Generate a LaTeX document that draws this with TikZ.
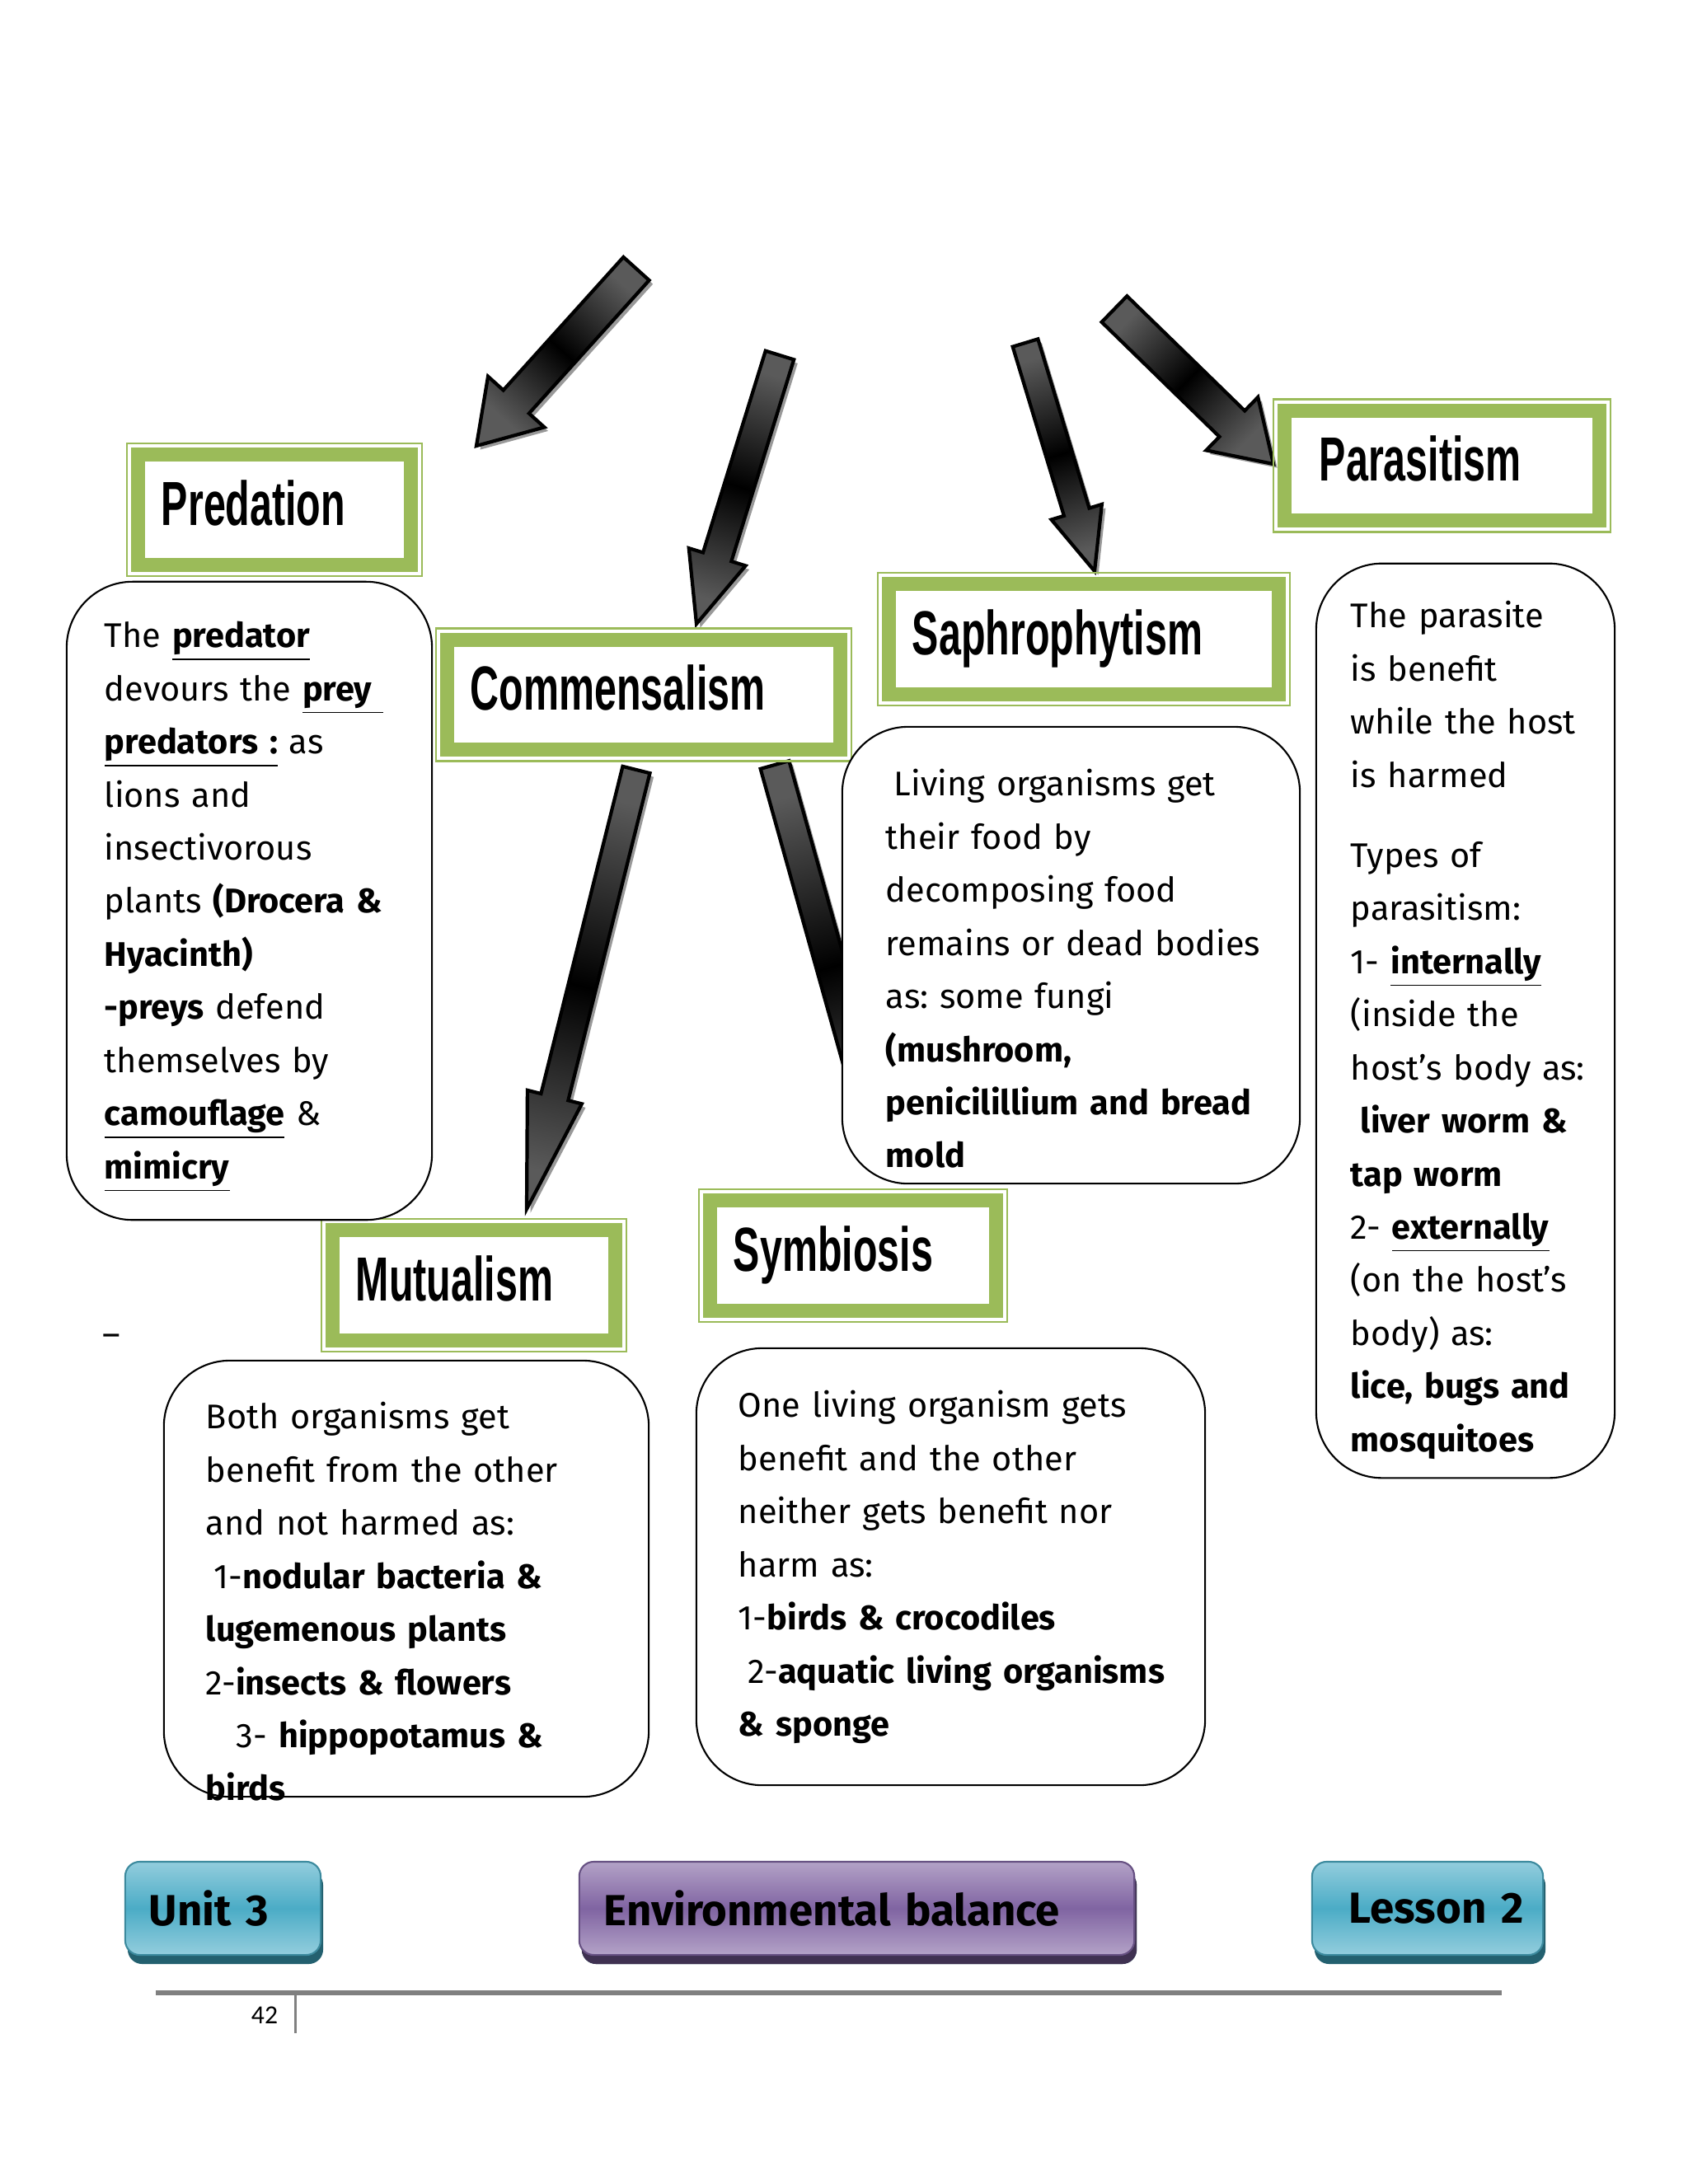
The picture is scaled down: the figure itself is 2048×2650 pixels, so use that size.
\documentclass[tikz,border=0pt]{standalone}
\usepackage{fontspec}
\setmainfont{Fira Sans}
\newfontfamily\titlefont[FakeStretch=0.64]{Liberation Sans}
\newfontfamily\pagefont{Carlito}
\usetikzlibrary{calc,shadows}

\definecolor{ggreen}{HTML}{9BBB59}
\definecolor{arrowgray}{HTML}{5A5A5A}
\definecolor{btnblue}{HTML}{4BACC6}
\definecolor{btnbluelight}{HTML}{93CDDD}
\definecolor{btnbluedark}{HTML}{23606F}
\definecolor{btnpurple}{HTML}{8064A2}
\definecolor{btnpurplelight}{HTML}{B3A2C7}
\definecolor{btnpurpledark}{HTML}{3F3151}
\definecolor{rulegray}{HTML}{808080}

% body text: no hyphenation, plain spacing
\newcommand{\boxtextfont}{\fontsize{11.8}{18.32}\selectfont
  \hyphenpenalty 10000\relax \exhyphenpenalty 10000\relax \frenchspacing}

% block arrow: tail, tip, half shaft, half head, head length
\newcommand{\bigarrow}[5]{%
  \pgfmathanglebetweenpoints{\pgfpointanchor{#1}{center}}{\pgfpointanchor{#2}{center}}%
  \pgfmathsetmacro{\arrowangle}{\pgfmathresult+90}%
  \coordinate (#1b) at ($(#2)!#5!(#1)$);
  \path[blockarrow, shading angle=\arrowangle]
    ($(#1)!#3!90:(#2)$) -- ($(#1b)!#3!-90:(#1)$) -- ($(#1b)!#4!-90:(#1)$)
    -- (#2) -- ($(#1b)!#4!90:(#1)$) -- ($(#1b)!#3!90:(#1)$)
    -- ($(#1)!#3!-90:(#2)$) -- cycle;
}

\begin{document}
\begin{tikzpicture}[x=0.01cm, y=-0.01cm,
  titlebox/.style={draw=ggreen, line width=0.17cm, fill=white, outer sep=0pt,
    inner xsep=0.28cm, inner ysep=0pt, minimum height=1.33cm, align=left,
    text height=0.55cm, text depth=0.18cm,
    font=\titlefont\bfseries\fontsize{21.5}{24}\selectfont},
  titleframe/.style={draw=ggreen, line width=0.7pt},
  textbox/.style={draw, line width=0.6pt, rounded corners=0.8cm, fill=white,
    inner ysep=0pt, align=left, font=\boxtextfont},
  blockarrow/.style={draw=black, line width=1.2pt, top color=arrowgray,
    bottom color=arrowgray, middle color=black,
    drop shadow={shadow xshift=1.3pt, shadow yshift=-1.3pt, fill=gray!80, opacity=1}},
  bluebtn/.style={draw=btnblue!80!black, line width=0.6pt, rounded corners=5pt,
    top color=btnbluelight, bottom color=btnbluelight, middle color=btnblue,
    drop shadow={shadow xshift=0.03cm, shadow yshift=-0.11cm, fill=btnbluedark, opacity=1},
    minimum height=1.13cm, inner ysep=0pt, align=left,
    font=\bfseries\fontsize{15}{18}\selectfont},
  purplebtn/.style={bluebtn, draw=btnpurple!80!black, top color=btnpurplelight,
    bottom color=btnpurplelight, middle color=btnpurple,
    drop shadow={shadow xshift=0.03cm, shadow yshift=-0.11cm, fill=btnpurpledark, opacity=1}}
]
\useasboundingbox[fill=white] (0,0) rectangle (2048,2650);

% arrows
\coordinate (a1t) at (772,326);  \coordinate (a1h) at (578,541);
\coordinate (a2t) at (946,431);  \coordinate (a2h) at (845,757);
\coordinate (a3t) at (1244,416); \coordinate (a3h) at (1328,693);
\coordinate (a4t) at (1352,375); \coordinate (a4h) at (1545,563);
\coordinate (a5t) at (772,934);  \coordinate (a5h) at (639,1467);
\coordinate (a6t) at (940,928);  \coordinate (a6h) at (1079,1425);
\bigarrow{a1t}{a1h}{0.21cm}{0.46cm}{0.72cm}
\bigarrow{a2t}{a2h}{0.18cm}{0.36cm}{0.85cm}
\bigarrow{a3t}{a3h}{0.16cm}{0.32cm}{0.75cm}
\bigarrow{a4t}{a4h}{0.22cm}{0.45cm}{0.70cm}
\bigarrow{a5t}{a5h}{0.17cm}{0.34cm}{1.40cm}
\bigarrow{a6t}{a6h}{0.18cm}{0.28cm}{0.70cm}

% headings
\node[titlebox, text width=2.74cm] (predtitle) at (333,618.5) {Predation};
\node[titlebox, text width=4.20cm] (commtitle) at (781,843) {Commensalism};
\node[titlebox, text width=4.16cm] (saprtitle) at (1315,775.5) {Saphrophytism};
\node[titlebox, inner xsep=0.42cm, text width=2.97cm] (paratitle) at (1749.5,565) {Parasitism};
\node[titlebox, text width=2.86cm] (mututitle) at (575,1559.5) {Mutualism};
\node[titlebox, text width=2.90cm] (symbtitle) at (1035,1523.5) {Symbiosis};
\foreach \n in {predtitle,commtitle,saprtitle,paratitle,mututitle,symbtitle}
  \draw[titleframe] ([shift={(-14,-14)}]\n.north west) rectangle ([shift={(14,14)}]\n.south east);

% explanations
\node[textbox, inner xsep=0.46cm, text width=3.51cm, text height=0.80cm, text depth=6.94cm]
  (predtext) at (302.5,1093) {The \underline{\textbf{predator}}\\
devours the \underline{\textbf{prey}\ }\\
\underline{\textbf{predators :}} as\\
lions and\\
insectivorous\\
plants~\textbf{(Drocera~\&}\\
\textbf{Hyacinth)}\\
\textbf{-preys} defend\\
themselves by\\
\underline{\textbf{camouflage}} \&\\
\underline{\textbf{mimicry}}};

\node[textbox, inner xsep=0.53cm, text width=4.49cm, text height=0.84cm, text depth=4.70cm]
  (saprtext) at (1299.5,1159) {\hspace*{0.1cm}Living organisms get\\
their food by\\
decomposing food\\
remains~or~dead~bodies\\
as: some fungi\\
\textbf{(mushroom,}\\
\textbf{penicilillium~and~bread}\\
\textbf{mold}};

\node[textbox, inner xsep=0.42cm, text width=2.78cm, text height=0.78cm, text depth=10.31cm]
  (paratext) at (1778,1238.5) {The parasite\\
is benefit\\
while the host\\
is harmed\\[0.33cm]
Types of\\
parasitism:\\
1- \underline{\textbf{internally}}\\
(inside the\\
host’s~body~as:\\
\hspace*{0.12cm}\textbf{liver~worm~\&}\\
\textbf{tap worm}\\
2- \underline{\textbf{externally}}\\
(on the host’s\\
body) as:\\
\textbf{lice,~bugs~and}\\
\textbf{mosquitoes}};

\node[textbox, inner xsep=0.51cm, text width=4.86cm, text height=0.83cm, text depth=4.46cm]
  (mututext) at (493,1915.5) {Both organisms get\\
benefit from the other\\
and not harmed as:\\
\hspace*{0.1cm}1-\textbf{nodular~bacteria~\&}\\
\textbf{lugemenous plants}\\
2-\textbf{insects \& flowers}\\
\hspace*{0.37cm}3- \textbf{hippopotamus~\&}\\
\textbf{birds}};

\node[textbox, inner xsep=0.51cm, text width=5.15cm, text height=0.84cm, text depth=4.46cm]
  (symbtext) at (1153.5,1901) {One living organism gets\\
benefit and the other\\
neither gets benefit nor\\
harm as:\\
1-\textbf{birds \& crocodiles}\\
\hspace*{0.12cm}2-\textbf{aquatic~living~organisms}\\
\textbf{\& sponge}};

\node[font=\fontsize{11.8}{14}\selectfont] (dash) at (135,1626) {--};

% footer
\node[bluebtn, inner xsep=0.29cm, text width=1.79cm] (unitbtn) at (270.5,2315.5) {Unit~3};
\node[purplebtn, inner xsep=0.30cm, text width=6.13cm] (envbtn) at (1039.5,2315.5) {Environmental~balance};
\node[bluebtn, inner xsep=0.45cm, text width=1.90cm] (lessonbtn) at (1732,2315.5) {Lesson~2};

\draw[rulegray, line width=0.06cm] (189,2418) -- (1822,2418);
\draw[rulegray, line width=0.03cm] (358,2418) -- (358,2467);
\node[font=\pagefont\fontsize{9}{10}\selectfont] (pagenum) at (321,2445) {42};
\end{tikzpicture}
\end{document}
